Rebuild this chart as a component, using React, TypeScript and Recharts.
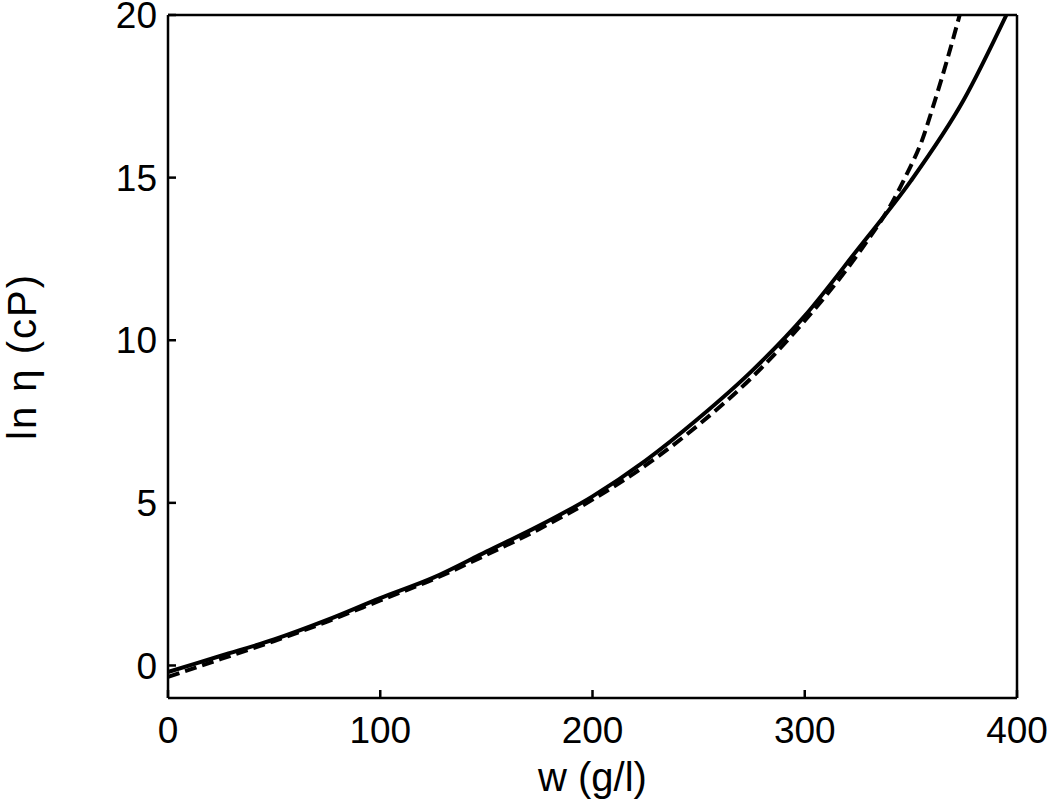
import { LineChart, Line, XAxis, YAxis } from 'recharts'

// measured curve
const wMeasured = [0, 25, 50, 75, 100, 125, 150, 175, 200, 225, 250, 275, 300, 325, 350, 375, 395]
const lnEtaMeasured = [-0.2, 0.3, 0.8, 1.4, 2.07, 2.7, 3.5, 4.3, 5.2, 6.3, 7.6, 9.05, 10.75, 12.8, 14.9, 17.4, 20.0]

// fitted curve (dashed)
const wFit = [0, 25, 50, 75, 100, 125, 150, 175, 200, 225, 250, 275, 300, 320, 331, 340, 348, 355, 361, 367, 373]
const lnEtaFit = [-0.35, 0.2, 0.75, 1.35, 2.0, 2.65, 3.4, 4.2, 5.1, 6.15, 7.4, 8.85, 10.6, 12.2, 13.2, 14.1, 15.1, 16.1, 17.3, 18.6, 20.0]

const xTicks = [0, 100, 200, 300, 400]
const yTicks = [0, 5, 10, 15, 20]

const measured = wMeasured.map((w, i) => ({ w, v: lnEtaMeasured[i] }))
const fit = wFit.map((w, i) => ({ w, v: lnEtaFit[i] }))

const font = '"Liberation Sans", Arial, sans-serif'
const tickStyle = { fill: '#000', fontSize: 37, fontFamily: font }
const axisLine = { stroke: '#000', strokeWidth: 2.5 }
const tickLine = { stroke: '#000', strokeWidth: 2.5 }

export default function App() {
  return (
    <div style={{ width: 1050, height: 801, background: '#fff' }}>
      <style>{'body { margin: 0; }'}</style>
      <LineChart width={1050} height={801} margin={{ top: 14, right: 32, bottom: 0, left: 0 }}>
        <XAxis
          xAxisId="b"
          type="number"
          dataKey="w"
          domain={[0, 400]}
          ticks={xTicks}
          interval={0}
          height={103}
          tickSize={-8}
          tickMargin={27}
          tick={tickStyle}
          axisLine={axisLine}
          tickLine={tickLine}
          label={{
            value: 'w (g/l)',
            position: 'insideBottom',
            offset: 10,
            fill: '#000',
            fontSize: 40,
            fontFamily: font,
          }}
        />
        <XAxis
          xAxisId="t"
          orientation="top"
          type="number"
          dataKey="w"
          domain={[0, 400]}
          ticks={xTicks}
          interval={0}
          height={1}
          tickSize={-8}
          tick={false}
          axisLine={axisLine}
          tickLine={tickLine}
        />
        <YAxis
          yAxisId="l"
          type="number"
          domain={[-1, 20]}
          ticks={yTicks}
          interval={0}
          width={168}
          tickSize={-8}
          tickMargin={19}
          tick={tickStyle}
          axisLine={axisLine}
          tickLine={tickLine}
          allowDataOverflow
          label={{
            value: 'ln η (cP)',
            angle: -90,
            position: 'insideLeft',
            offset: 22,
            fill: '#000',
            fontSize: 40,
            fontFamily: font,
            letterSpacing: 2,
            style: { textAnchor: 'middle' },
          }}
        />
        <YAxis
          yAxisId="r"
          orientation="right"
          type="number"
          domain={[-1, 20]}
          ticks={yTicks}
          interval={0}
          width={1}
          tickSize={-8}
          tick={false}
          axisLine={axisLine}
          tickLine={tickLine}
        />
        <Line
          xAxisId="b"
          yAxisId="l"
          data={measured}
          dataKey="v"
          type="monotone"
          stroke="#000"
          strokeWidth={4}
          dot={false}
          isAnimationActive={false}
        />
        <Line
          xAxisId="b"
          yAxisId="l"
          data={fit}
          dataKey="v"
          type="monotone"
          stroke="#000"
          strokeWidth={4}
          strokeDasharray="12 6"
          dot={false}
          isAnimationActive={false}
        />
      </LineChart>
    </div>
  )
}
